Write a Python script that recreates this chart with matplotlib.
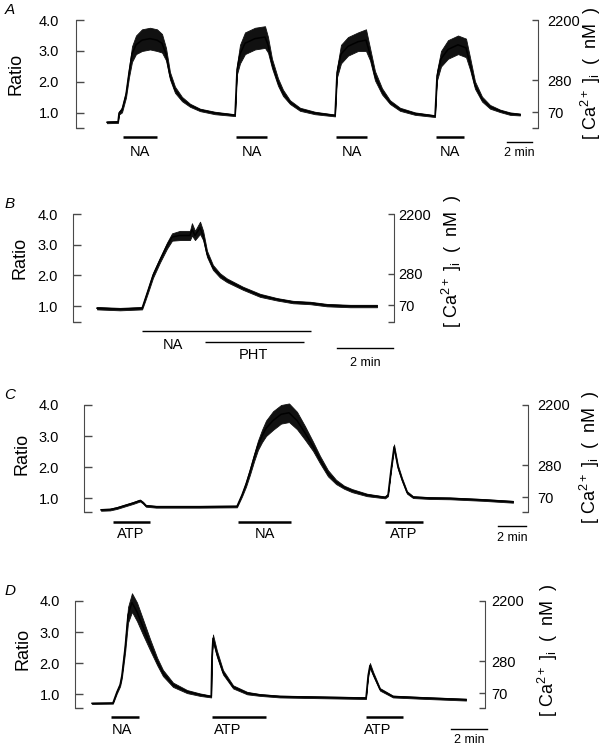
import matplotlib
matplotlib.use("Agg")
import matplotlib.pyplot as plt
import matplotlib.transforms as mtransforms

plt.rcParams["font.family"] = ["Liberation Sans", "DejaVu Sans"]
plt.rcParams["mathtext.fontset"] = "custom"
plt.rcParams["mathtext.rm"] = "Liberation Sans"
plt.rcParams["mathtext.it"] = "Liberation Sans:italic"

# ---- data (time in min from start of trace, fluorescence ratio) ----
A_t = [0.0, 0.88, 0.96, 1.2, 1.52, 1.76, 2.0, 2.32, 2.8, 3.44, 4.0, 4.4, 4.72, 5.04, 5.44, 6.0, 6.64, 7.44, 8.64, 10.24,
       10.4, 10.64, 11.04, 11.84, 12.64, 12.88, 13.2, 13.68, 14.08, 14.64, 15.44, 16.64, 18.24,
       18.4, 18.72, 19.28, 20.08, 20.72, 21.04, 21.44, 22.0, 22.64, 23.44, 24.64, 26.24,
       26.4, 26.72, 27.28, 28.08, 28.72, 29.04, 29.44, 30.0, 30.64, 31.44, 32.24, 33.04]
A_r = [0.70, 0.71, 1.0, 1.1, 1.6, 2.3, 2.9, 3.2, 3.35, 3.4, 3.35, 3.25, 2.9, 2.2, 1.75, 1.45, 1.25, 1.1, 1.0, 0.93,
       2.4, 2.9, 3.25, 3.4, 3.45, 3.2, 2.6, 2.0, 1.65, 1.35, 1.12, 1.0, 0.92,
       2.3, 2.9, 3.15, 3.3, 3.35, 2.9, 2.2, 1.7, 1.35, 1.12, 0.98, 0.9,
       2.2, 2.75, 3.05, 3.2, 3.1, 2.6, 1.9, 1.45, 1.2, 1.07, 0.98, 0.95]
A_noise = [0.03, 0.03, 0.05, 0.08, 0.1, 0.15, 0.25, 0.3, 0.35, 0.35, 0.35, 0.3, 0.2, 0.12, 0.1, 0.07, 0.05, 0.04, 0.04, 0.03,
           0.15, 0.3, 0.35, 0.35, 0.35, 0.25, 0.15, 0.12, 0.1, 0.06, 0.05, 0.04, 0.03,
           0.15, 0.3, 0.3, 0.3, 0.35, 0.2, 0.15, 0.1, 0.06, 0.05, 0.04, 0.03,
           0.15, 0.25, 0.3, 0.3, 0.3, 0.2, 0.12, 0.08, 0.06, 0.04, 0.04, 0.03]
A_stim = ["NA", "NA", "NA", "NA"]
A_on = [1.28, 10.32, 18.32, 26.32]
A_off = [4.0, 12.8, 20.8, 28.56]
A_lab = [2.64, 11.56, 19.56, 27.44]

B_t = [0.0, 0.82, 1.61, 1.71, 1.82, 2.0, 2.25, 2.5, 2.68, 2.96, 3.14, 3.32, 3.39, 3.5, 3.68, 3.79, 3.93, 4.14,
       4.39, 4.64, 5.21, 5.82, 6.43, 7.0, 7.61, 8.21, 9.04, 10.0]
B_r = [0.93, 0.9, 0.93, 1.2, 1.5, 2.0, 2.5, 2.97, 3.25, 3.3, 3.3, 3.3, 3.5, 3.3, 3.55, 3.3, 2.7, 2.26,
       2.0, 1.84, 1.58, 1.35, 1.22, 1.13, 1.1, 1.03, 1.0, 1.0]
B_noise = [0.04, 0.04, 0.04, 0.06, 0.07, 0.08, 0.08, 0.1, 0.12, 0.15, 0.15, 0.15, 0.2, 0.15, 0.2, 0.15, 0.1, 0.08,
           0.07, 0.06, 0.05, 0.05, 0.04, 0.04, 0.04, 0.04, 0.04, 0.04]
B_stim = ["NA", "PHT"]
B_on = [1.61, 3.86]
B_off = [7.64, 7.39]
B_lab = [2.71, 5.6]

C_t = [0.0, 0.64, 1.14, 1.71, 2.29, 2.79, 3.0, 3.21, 3.93, 7.07, 9.71, 10.07, 10.36, 10.64, 10.93, 11.21, 11.5,
       11.79, 12.29, 12.86, 13.43, 14.0, 14.57, 15.14, 15.64, 16.21, 16.79, 17.36, 17.93, 19.0, 20.29, 20.5,
       20.71, 20.93, 21.21, 21.5, 21.86, 22.29, 23.5, 24.93, 27.29, 29.43]
C_r = [0.62, 0.63, 0.68, 0.76, 0.84, 0.92, 0.85, 0.75, 0.72, 0.72, 0.73, 1.1, 1.45, 1.85, 2.3, 2.7, 3.0,
       3.25, 3.5, 3.7, 3.75, 3.5, 3.1, 2.67, 2.24, 1.8, 1.52, 1.35, 1.24, 1.1, 1.02, 1.1,
       1.9, 2.65, 2.0, 1.6, 1.18, 1.03, 1.0, 0.99, 0.94, 0.88]
C_noise = [0.03, 0.03, 0.03, 0.03, 0.03, 0.03, 0.03, 0.03, 0.03, 0.03, 0.03, 0.05, 0.08, 0.1, 0.12, 0.15, 0.2,
           0.25, 0.3, 0.3, 0.3, 0.28, 0.22, 0.15, 0.12, 0.1, 0.07, 0.05, 0.05, 0.04, 0.03, 0.04,
           0.06, 0.08, 0.06, 0.05, 0.04, 0.03, 0.03, 0.03, 0.03, 0.03]
C_stim = ["ATP", "NA", "ATP"]
C_on = [0.86, 9.79, 20.29]
C_off = [3.5, 13.57, 23.0]
C_lab = [2.14, 11.71, 21.64]

D_t = [0.0, 1.16, 1.38, 1.56, 1.66, 1.84, 2.0, 2.22, 2.5, 2.84, 3.22, 3.62, 3.94, 4.5, 5.28, 6.0, 6.62,
       6.66, 6.72, 6.94, 7.28, 7.84, 8.62, 9.34, 10.44, 12.28, 15.22, 15.34, 15.44, 15.62, 16.0, 16.72,
       18.22, 20.78]
D_r = [0.7, 0.71, 1.06, 1.3, 1.6, 2.5, 3.55, 3.95, 3.65, 3.15, 2.6, 2.05, 1.68, 1.3, 1.08, 0.98, 0.92,
       2.2, 2.8, 2.3, 1.7, 1.23, 1.03, 0.97, 0.92, 0.9, 0.87, 1.6, 1.92, 1.65, 1.15, 0.92,
       0.88, 0.82]
D_noise = [0.02, 0.02, 0.04, 0.05, 0.08, 0.15, 0.25, 0.3, 0.3, 0.25, 0.18, 0.12, 0.1, 0.07, 0.05, 0.04, 0.03,
           0.1, 0.12, 0.1, 0.07, 0.05, 0.04, 0.03, 0.03, 0.03, 0.03, 0.06, 0.08, 0.06, 0.04, 0.03,
           0.03, 0.03]
D_stim = ["NA", "ATP", "ATP"]
D_on = [1.06, 6.67, 15.22]
D_off = [2.61, 9.67, 17.28]
D_lab = [1.67, 7.56, 15.89]

ratio_ticks = [1.0, 2.0, 3.0, 4.0]
ratio_labels = ["1.0", "2.0", "3.0", "4.0"]
ca_ticks = [1.03, 2.06, 4.0]
ca_labels = ["70", "280", "2200"]

W, H = 612, 750
fig = plt.figure(figsize=(W / 100, H / 100), dpi=100)
GREY = "#4a4a4a"


def fy(ypx):
    return 1 - ypx / H


def panel(letter, t, r, noise, stim, on, off, lab, scale, *, box, ylo, ppm, x0,
          lpad, rpad, bar_y, lab_y, sc_y, sc_lab_y, ratio_xy, ca_xy, bar_lw=1.8):
    l, rgt, top, bot = box
    ax = fig.add_axes([l / W, fy(bot), (rgt - l) / W, (bot - top) / H])
    ax.set_xlim((l - x0) / ppm, (rgt - x0) / ppm)
    ax.set_ylim(ylo, 4.0)
    # recorded trace drawn as its noise envelope around the mean level
    lo = [v - n for v, n in zip(r, noise)]
    hi = [v + n for v, n in zip(r, noise)]
    ax.fill_between(t, lo, hi, color="#111111", linewidth=0.6, clip_on=False)
    ax.plot(t, r, color="black", linewidth=1.1, clip_on=False)

    for s in ("top", "bottom", "right"):
        ax.spines[s].set_visible(False)
    ax.spines["left"].set_color(GREY)
    ax.set_xticks([])
    ax.set_yticks([ylo] + ratio_ticks, [""] + ratio_labels)
    ax.tick_params(axis="y", direction="in", length=6, width=1, color=GREY,
                   pad=lpad * 0.72, labelsize=10.5)

    ax2 = ax.twinx()
    ax2.set_ylim(ylo, 4.0)
    for s in ("top", "bottom", "left"):
        ax2.spines[s].set_visible(False)
    ax2.spines["right"].set_color(GREY)
    ax2.set_yticks([ylo] + ca_ticks, [""] + ca_labels)
    ax2.tick_params(axis="y", direction="in", length=4, width=1, color=GREY,
                    pad=rpad * 0.72, labelsize=10.5)

    # stimulus bars and time scale below the trace
    tr = mtransforms.blended_transform_factory(ax.transData, fig.transFigure)
    for i, (name, a, b, xl) in enumerate(zip(stim, on, off, lab)):
        by = bar_y[i] if isinstance(bar_y, list) else bar_y
        ly = lab_y[i] if isinstance(lab_y, list) else lab_y
        ax.plot([a, b], [fy(by), fy(by)], color="black", linewidth=bar_lw,
                transform=tr, clip_on=False, solid_capstyle="butt")
        ax.text(xl, fy(ly), name, transform=tr, ha="center", va="center", fontsize=10.5)
    ax.plot(scale, [fy(sc_y), fy(sc_y)], color="black", linewidth=1.0, transform=tr, clip_on=False)
    ax.text(sum(scale) / 2, fy(sc_lab_y), "2 min", transform=tr, ha="center", va="center", fontsize=9)

    fig.text(ratio_xy[0] / W, fy(ratio_xy[1]), "Ratio", rotation=90, ha="center", va="center", fontsize=13)
    fig.text(ca_xy[0] / W, fy(ca_xy[1]), r"[ Ca$^{2+}$ ]$_{\mathregular{i}}$  (  nM  )", rotation=90,
             ha="center", va="center", fontsize=13)
    fig.text(10 / W, fy(top - 10), letter, style="italic", ha="center", va="center", fontsize=11)


panel("A", A_t, A_r, A_noise, A_stim, A_on, A_off, A_lab, [32.0, 34.0],
      box=(76, 538, 20, 128), ylo=0.516, ppm=12.5, x0=107, lpad=17, rpad=9,
      bar_y=137, lab_y=152, sc_y=142, sc_lab_y=153, ratio_xy=(16, 74), ca_xy=(591, 73))
panel("B", B_t, B_r, B_noise, B_stim, B_on, B_off, B_lab, [8.57, 10.57],
      box=(73, 394, 214, 322), ylo=0.48, ppm=28, x0=97, lpad=15, rpad=4,
      bar_y=[331, 342], lab_y=[345, 355], sc_y=348, sc_lab_y=363,
      ratio_xy=(20, 258), ca_xy=(452, 261), bar_lw=1.0)
panel("C", C_t, C_r, C_noise, C_stim, C_on, C_off, C_lab, [28.36, 30.36],
      box=(84, 528, 405, 512), ylo=0.55, ppm=14, x0=101, lpad=25, rpad=9,
      bar_y=522, lab_y=534, sc_y=526, sc_lab_y=538, ratio_xy=(22, 454), ca_xy=(590, 457))
panel("D", D_t, D_r, D_noise, D_stim, D_on, D_off, D_lab, [19.94, 21.94],
      box=(75, 485, 601, 708), ylo=0.55, ppm=18, x0=92, lpad=15, rpad=6,
      bar_y=717, lab_y=730, sc_y=729, sc_lab_y=740, ratio_xy=(23, 649), ca_xy=(548, 650))

fig.savefig("out.png", dpi=100)
